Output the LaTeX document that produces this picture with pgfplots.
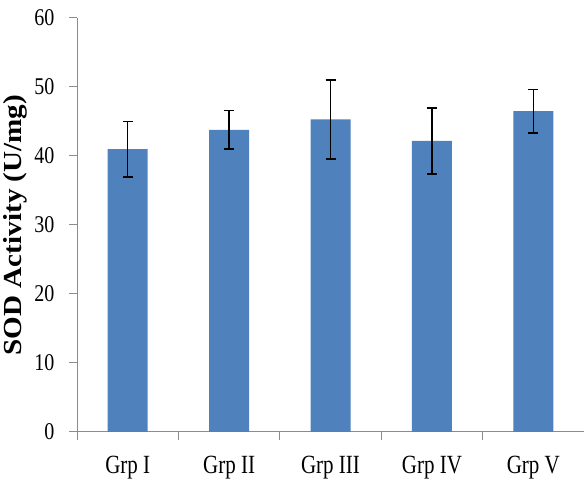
\documentclass[border=0pt]{standalone}
\usepackage{fontspec}
\setmainfont{Liberation Serif}
\usepackage{pgfplots}
\pgfplotsset{compat=1.18}
\definecolor{barblue}{HTML}{4F81BD}
\definecolor{axgray}{HTML}{8C8C8C}
\begin{document}
\begin{tikzpicture}
\begin{axis}[
  scale only axis, width=507pt, height=414pt,
  xmin=-0.5, xmax=4.5, ymin=0, ymax=60,
  axis lines=left,
  axis line style={axgray, line width=1pt, -},
  every tick/.style={axgray, line width=1pt},
  ytick pos=left, xtick pos=left,
  xtick={-0.5,0.5,1.5,2.5,3.5,4.5},
  xticklabels={\scalebox{1}[1.25]{Grp I}, \scalebox{1}[1.25]{Grp II}, \scalebox{1}[1.25]{Grp III}, \scalebox{1}[1.25]{Grp IV}, \scalebox{1}[1.25]{Grp V}, {}},
  xticklabel style={font=\fontsize{21}{22}\selectfont, xshift=50.7pt, yshift=-13pt},
  ytick={0,10,...,60},
  major tick length=8pt,
  tick align=outside,
  /pgf/number format/assume math mode=true,
  yticklabel={\scalebox{1}[1.2]{\pgfmathprintnumber{\tick}}},
  yticklabel style={font=\fontsize{20}{22}\selectfont, xshift=-11pt},
  ylabel={\scalebox{1.12}[1]{\textbf{SOD Activity (U/mg)}}},
  ylabel style={font=\fontsize{26}{28}\selectfont},
  clip=false,
]
\addplot[ybar, bar width=40pt, fill=barblue, draw=none,
  error bars/.cd, y dir=both, y explicit,
  error bar style={black, line width=1.5pt},
  error mark options={rotate=90, mark size=5pt, line width=1.8pt, black}]
  coordinates {
    (0,41.0) +- (0,4.0)
    (1,43.8) +- (0,2.8)
    (2,45.3) +- (0,5.7)
    (3,42.2) +- (0,4.8)
    (4,46.5) +- (0,3.15)
  };
\pgfplotsinvokeforeach{0,10,20,30,40,50,60}{
  \draw[axgray, line width=1pt] (axis cs:-0.5,#1) -- ++(-5pt,0pt);
}
\end{axis}
\pgfresetboundingbox
\path[use as bounding box] ([xshift=-77pt,yshift=-55pt]current axis.south west) rectangle ([yshift=18pt]current axis.north east);
\end{tikzpicture}
\end{document}
